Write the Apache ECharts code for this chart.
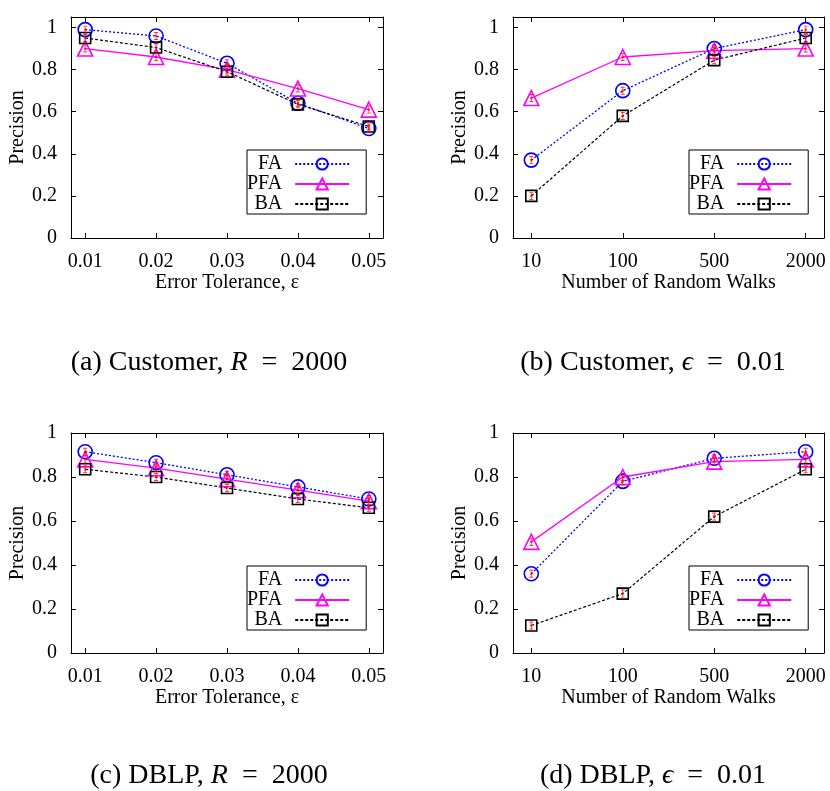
<!DOCTYPE html>
<html>
<head>
<meta charset="utf-8">
<script src="https://cdn.jsdelivr.net/npm/echarts@6/dist/echarts.min.js"></script>
<style>
html,body{margin:0;padding:0;background:#fff;}
#chart{width:830px;height:791px;}
</style>
</head>
<body>
<div id="chart"></div>
<script>
// ---- data ----
const epsLabels = ['0.01', '0.02', '0.03', '0.04', '0.05'];
const walkLabels = ['10', '100', '500', '2000'];
const yTickValues = [0, 0.2, 0.4, 0.6, 0.8, 1];
const seriesNames = ['FA', 'PFA', 'BA'];

// (a) Customer, R = 2000
const custEpsFA  = [0.99, 0.96, 0.83, 0.64, 0.52];
const custEpsPFA = [0.90, 0.86, 0.80, 0.71, 0.61];
const custEpsBA  = [0.95, 0.905, 0.79, 0.635, 0.53];
// (b) Customer, eps = 0.01
const custWalkFA  = [0.37, 0.70, 0.90, 0.99];
const custWalkPFA = [0.665, 0.86, 0.89, 0.90];
const custWalkBA  = [0.20, 0.58, 0.845, 0.95];
// (c) DBLP, R = 2000
const dblpEpsFA  = [0.915, 0.865, 0.81, 0.755, 0.70];
const dblpEpsPFA = [0.88, 0.84, 0.79, 0.74, 0.69];
const dblpEpsBA  = [0.835, 0.80, 0.75, 0.70, 0.66];
// (d) DBLP, eps = 0.01
const dblpWalkFA  = [0.36, 0.78, 0.885, 0.915];
const dblpWalkPFA = [0.505, 0.80, 0.87, 0.88];
const dblpWalkBA  = [0.125, 0.27, 0.62, 0.835];

const captions = [
  '(a) Customer, {i|R}\u2002=\u20022000',
  '(b) Customer, {i|ϵ}\u2002=\u20020.01',
  '(c) DBLP, {i|R}\u2002=\u20022000',
  '(d) DBLP, {i|ϵ}\u2002=\u20020.01'
];

// ---- layout / styles ----
const FONT = "'Liberation Serif', 'Times New Roman', serif";
const panels = [
  {labels: epsLabels, data: [custEpsFA, custEpsPFA, custEpsBA], xName: 'Error Tolerance, ε', yMax: 1.05,
   grid: {left: 71, top: 17, width: 312, height: 221}, legend: {left: 247, top: 150}, cap: {x: 204, y: 344}},
  {labels: walkLabels, data: [custWalkFA, custWalkPFA, custWalkBA], xName: 'Number of Random Walks', yMax: 1.05,
   grid: {left: 513, top: 17, width: 311, height: 221}, legend: {left: 689, top: 150}, cap: {x: 648, y: 344}},
  {labels: epsLabels, data: [dblpEpsFA, dblpEpsPFA, dblpEpsBA], xName: 'Error Tolerance, ε', yMax: 1.0,
   grid: {left: 71, top: 433, width: 312, height: 220}, legend: {left: 247, top: 566}, cap: {x: 204, y: 757}},
  {labels: walkLabels, data: [dblpWalkFA, dblpWalkPFA, dblpWalkBA], xName: 'Number of Random Walks', yMax: 1.0,
   grid: {left: 513, top: 433, width: 311, height: 220}, legend: {left: 689, top: 566}, cap: {x: 648, y: 757}}
];
const styles = [
  {color: '#0000ff', symbol: 'circle', size: 14, type: [2, 2], width: 1.3},
  {color: '#ff00ff', symbol: 'triangle', size: 15, type: 'solid', width: 1.3},
  {color: '#000000', symbol: 'rect', size: 11, type: [3, 2], width: 1.2}
];
const errSymbol = 'path://M0,0H6V1.2H3.6V3.6H4.6V6.4H3.6V8.8H6V10H0V8.8H2.4V6.4H1.4V3.6H2.4V1.2H0Z';

const grid = [], xAxis = [], yAxis = [], series = [], legend = [], title = [];
const axisLineStyle = {lineStyle: {color: '#000', width: 1}};
panels.forEach((p, i) => {
  grid.push(Object.assign({containLabel: false}, p.grid));
  const idx = p.labels.map((_, k) => k);
  const xr = {min: -0.2, max: p.labels.length - 1 + 0.2};
  xAxis.push(Object.assign({
    type: 'value', gridIndex: i, position: 'bottom',
    axisLine: Object.assign({onZero: false}, axisLineStyle),
    axisTick: {inside: true, length: 5, customValues: idx, lineStyle: {color: '#000'}},
    axisLabel: {customValues: idx, formatter: v => p.labels[Math.round(v)], margin: 14,
      fontFamily: FONT, fontSize: 20, color: '#000'},
    splitLine: {show: false},
    name: p.xName, nameLocation: 'middle', nameGap: 34,
    nameTextStyle: {fontFamily: FONT, fontSize: 20, color: '#000'}
  }, xr));
  xAxis.push(Object.assign({
    type: 'value', gridIndex: i, position: 'top',
    axisLine: Object.assign({onZero: false}, axisLineStyle),
    axisTick: {inside: true, length: 5, customValues: idx, lineStyle: {color: '#000'}},
    axisLabel: {show: false}, splitLine: {show: false}
  }, xr));
  yAxis.push({
    type: 'value', gridIndex: i, position: 'left', min: 0, max: p.yMax,
    axisLine: Object.assign({show: true, onZero: false}, axisLineStyle),
    axisTick: {show: true, inside: true, length: 5, customValues: yTickValues, lineStyle: {color: '#000'}},
    axisLabel: {customValues: yTickValues, margin: 14, fontFamily: FONT, fontSize: 20, color: '#000'},
    splitLine: {show: false},
    name: 'Precision', nameLocation: 'middle', nameGap: 42,
    nameTextStyle: {fontFamily: FONT, fontSize: 20, color: '#000'}
  });
  yAxis.push({
    type: 'value', gridIndex: i, position: 'right', min: 0, max: p.yMax,
    axisLine: Object.assign({show: true, onZero: false}, axisLineStyle),
    axisTick: {show: true, inside: true, length: 5, customValues: yTickValues, lineStyle: {color: '#000'}},
    axisLabel: {show: false}, splitLine: {show: false}
  });
  p.data.forEach((vals, s) => {
    const st = styles[s];
    const pts = vals.map((v, k) => [k, v]);
    series.push({
      type: 'line', name: seriesNames[s], xAxisIndex: 2 * i, yAxisIndex: 2 * i,
      data: pts, symbol: st.symbol, symbolSize: st.size, showAllSymbol: true,
      lineStyle: {color: st.color, width: st.width, type: st.type},
      itemStyle: {color: 'rgba(0,0,0,0)', borderColor: st.color, borderWidth: 1.6},
      emphasis: {disabled: true}, animation: false, z: 3
    });
    series.push({
      type: 'scatter', name: seriesNames[s] + ' err', xAxisIndex: 2 * i, yAxisIndex: 2 * i,
      data: pts, symbol: errSymbol, symbolSize: [4, 8],
      itemStyle: {color: '#ff0000'}, emphasis: {disabled: true}, animation: false, z: 4
    });
  });
  legend.push({
    left: p.legend.left, top: p.legend.top, orient: 'vertical', align: 'right',
    data: seriesNames.map(n => ({name: n})),
    itemWidth: 54, itemHeight: 14, itemGap: 0,
    padding: [4, 16, 0, 0],
    borderColor: '#000', borderWidth: 1, borderRadius: 0,
    selectedMode: false,
    textStyle: {fontFamily: FONT, fontSize: 20, color: '#000', width: 38, align: 'right', padding: [0, 8, 0, 0]}
  });
  title.push({
    text: captions[i], left: p.cap.x, top: p.cap.y, textAlign: 'center',
    textStyle: {fontFamily: FONT, fontSize: 28, fontWeight: 'normal', color: '#000',
      rich: {i: {fontFamily: FONT, fontSize: 28, fontStyle: 'italic', color: '#000'}}}
  });
});

const chart = echarts.init(document.getElementById('chart'), null, {renderer: 'canvas'});
chart.setOption({
  backgroundColor: '#fff', animation: false,
  grid, xAxis, yAxis, series, legend, title
});
</script>
</body>
</html>
